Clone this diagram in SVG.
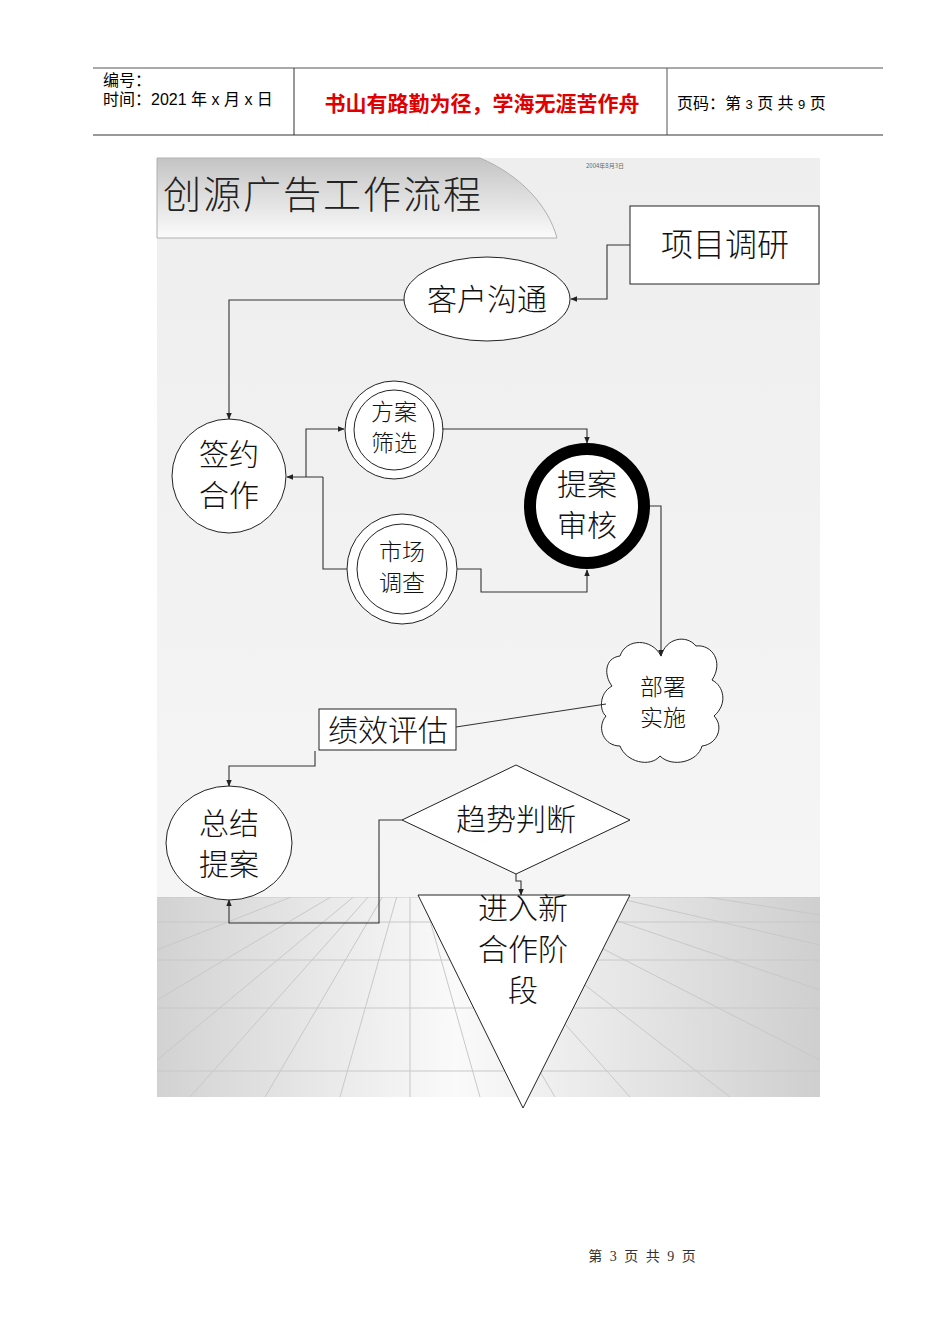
<svg xmlns="http://www.w3.org/2000/svg" width="950" height="1344" viewBox="0 0 950 1344">
<style>
.hdr{font-family:"Liberation Sans","Noto Sans CJK SC",sans-serif;fill:#000}
.cj{font-family:"Noto Sans CJK SC",sans-serif;fill:#111;font-weight:300;text-anchor:middle}
.sh{fill:#fff;stroke:#222;stroke-width:1}
.cn{fill:none;stroke:#333;stroke-width:1.1}
.grid{stroke:#c8c8c8;stroke-width:1;fill:none}
</style>
<defs>
<marker id="ar" viewBox="0 0 10 10" refX="9" refY="5" markerWidth="7" markerHeight="7" orient="auto-start-reverse" markerUnits="userSpaceOnUse">
<path d="M0,1 L10,5 L0,9 z" fill="#222"/>
</marker>
<linearGradient id="ban" x1="0" y1="0" x2="0" y2="1">
<stop offset="0" stop-color="#c4c4c4"/>
<stop offset="1" stop-color="#fbfbfb"/>
</linearGradient>
<linearGradient id="floor" x1="0" y1="0" x2="1" y2="0">
<stop offset="0" stop-color="#d2d2d2"/>
<stop offset="0.45" stop-color="#fafafa"/>
<stop offset="1" stop-color="#cfcfcf"/>
</linearGradient>
<linearGradient id="bg" x1="0" y1="0" x2="0" y2="1">
<stop offset="0" stop-color="#eeeeee"/>
<stop offset="1" stop-color="#f7f7f7"/>
</linearGradient>
<clipPath id="fl"><rect x="157" y="897" width="663" height="200"/></clipPath>
</defs>

<!-- header -->
<g id="header">
<line x1="93" y1="68" x2="883" y2="68" stroke="#555" stroke-width="1"/>
<line x1="93" y1="135" x2="883" y2="135" stroke="#777" stroke-width="1.5"/>
<line x1="294" y1="68" x2="294" y2="135" stroke="#333"/>
<line x1="667" y1="68" x2="667" y2="135" stroke="#555"/>
<text class="hdr" x="103" y="86" font-size="16">编号：</text>
<text class="hdr" x="103" y="105" font-size="16">时间：2021 年 x 月 x 日</text>
<text x="482" y="111" font-size="21" font-weight="bold" fill="#e00000" text-anchor="middle" font-family="Noto Sans CJK SC,sans-serif">书山有路勤为径，学海无涯苦作舟</text>
<text class="hdr" x="677" y="109" font-size="16">页码：第 <tspan font-size="13">3</tspan> 页  共 <tspan font-size="13">9</tspan> 页</text>
</g>

<!-- picture background -->
<g id="background">
<rect x="157" y="158" width="663" height="939" fill="url(#bg)"/>
<rect x="157" y="897" width="663" height="200" fill="url(#floor)"/>
<g clip-path="url(#fl)" class="grid">
<line x1="157" y1="897" x2="820" y2="897"/>
<line x1="157" y1="922" x2="820" y2="922"/>
<line x1="157" y1="960" x2="820" y2="960"/>
<line x1="157" y1="1008" x2="820" y2="1008"/>
<line x1="157" y1="1071" x2="820" y2="1071"/>
<line x1="410" y1="897" x2="410" y2="1097"/>
<line x1="410" y1="850" x2="157" y2="950"/>
<line x1="410" y1="850" x2="157" y2="1000"/>
<line x1="410" y1="850" x2="157" y2="1060"/>
<line x1="410" y1="850" x2="190" y2="1097"/>
<line x1="410" y1="850" x2="265" y2="1097"/>
<line x1="410" y1="850" x2="340" y2="1097"/>
<line x1="410" y1="850" x2="480" y2="1097"/>
<line x1="410" y1="850" x2="555" y2="1097"/>
<line x1="410" y1="850" x2="630" y2="1097"/>
<line x1="410" y1="850" x2="730" y2="1097"/>
<line x1="410" y1="850" x2="820" y2="1060"/>
<line x1="410" y1="850" x2="820" y2="990"/>
<line x1="410" y1="850" x2="820" y2="945"/>
<line x1="410" y1="850" x2="820" y2="915"/>
</g>
<path d="M157,158 L480,158 C520,175 548,205 557,238 L157,238 Z" fill="url(#ban)" stroke="#b0b0b0" stroke-width="1"/>
<text x="163" y="208" font-size="38" font-family="Noto Sans CJK SC,sans-serif" font-weight="300" fill="#222" letter-spacing="2">创源广告工作流程</text>
<text x="586" y="168" font-size="6" font-family="Noto Sans CJK SC,sans-serif" fill="#666">2004年8月3日</text>
</g>

<!-- nodes -->
<g id="n-xmdy">
<rect class="sh" x="630" y="206" width="189" height="78"/>
<text class="cj" x="725" y="256" font-size="32">项目调研</text>
</g>
<g id="n-khgt">
<ellipse class="sh" cx="487" cy="299" rx="83" ry="42"/>
<text class="cj" x="487" y="310" font-size="30">客户沟通</text>
</g>
<g id="n-qyhz">
<circle class="sh" cx="229" cy="476" r="57"/>
<text class="cj" x="229" y="465" font-size="30">签约</text>
<text class="cj" x="229" y="506" font-size="30">合作</text>
</g>
<g id="n-fasx">
<circle class="sh" cx="394" cy="430" r="49"/>
<circle class="sh" cx="394" cy="430" r="40"/>
<text class="cj" x="394" y="420" font-size="23">方案</text>
<text class="cj" x="394" y="451" font-size="23">筛选</text>
</g>
<g id="n-scdc">
<circle class="sh" cx="402" cy="569" r="55"/>
<circle class="sh" cx="402" cy="569" r="45"/>
<text class="cj" x="402" y="560" font-size="23">市场</text>
<text class="cj" x="402" y="591" font-size="23">调查</text>
</g>
<g id="n-tash">
<circle cx="587" cy="506" r="57" fill="#fff" stroke="#000" stroke-width="12"/>
<text class="cj" x="587" y="495" font-size="30">提案</text>
<text class="cj" x="587" y="536" font-size="30">审核</text>
</g>
<g id="n-bsss">
<path class="sh" d="M661,656 C652,638 626,638 620,656 C604,658 604,676 612,686 C598,694 600,712 606,716 C596,728 604,746 620,746 C626,762 650,768 660,756 C672,768 698,762 702,746 C718,744 724,726 714,716 C728,704 724,686 712,680 C724,662 712,644 696,646 C686,634 666,638 661,656 Z"/>
<text class="cj" x="663" y="695" font-size="23">部署</text>
<text class="cj" x="663" y="726" font-size="23">实施</text>
</g>
<g id="n-jxpg">
<rect class="sh" x="319" y="709" width="137" height="41"/>
<text class="cj" x="388" y="741" font-size="30">绩效评估</text>
</g>
<g id="n-zjta">
<ellipse class="sh" cx="229" cy="843" rx="63" ry="57"/>
<text class="cj" x="229" y="834" font-size="30">总结</text>
<text class="cj" x="229" y="875" font-size="30">提案</text>
</g>
<g id="n-qspd">
<polygon class="sh" points="402,820 516,765 630,820 516,874"/>
<text class="cj" x="516" y="830" font-size="30">趋势判断</text>
</g>
<g id="n-jrxhz">
<polygon class="sh" points="418,895 630,895 523,1108"/>
<text class="cj" x="523" y="919" font-size="30">进入新</text>
<text class="cj" x="523" y="960" font-size="30">合作阶</text>
<text class="cj" x="523" y="1001" font-size="30">段</text>
</g>

<!-- connectors -->
<g id="connectors">
<path class="cn" d="M630,245 H607 V299 H571" marker-end="url(#ar)"/>
<path class="cn" d="M404,300 H229 V419" marker-end="url(#ar)"/>
<path class="cn" d="M323,477 H287" marker-end="url(#ar)"/>
<path class="cn" d="M306,477 V429 H344" marker-end="url(#ar)"/>
<path class="cn" d="M347,569 H323 V477"/>
<path class="cn" d="M442,429 H587 V443" marker-end="url(#ar)"/>
<path class="cn" d="M457,569 H481 V592 H587 V570" marker-end="url(#ar)"/>
<path class="cn" d="M650,506 H661 V656" marker-end="url(#ar)"/>
<path class="cn" d="M606,704 L456,727"/>
<path class="cn" d="M315,751 V766 H229 V786" marker-end="url(#ar)"/>
<path class="cn" d="M402,820 H379 V923 H229 V900" marker-end="url(#ar)"/>
<path class="cn" d="M516,874 V881 H521 V895" marker-end="url(#ar)"/>
</g>

<g id="footer">
<text x="643" y="1261" font-size="14" text-anchor="middle" letter-spacing="2" font-family="Liberation Serif,Noto Sans CJK SC,serif" fill="#333">第 3 页 共 9 页</text>
</g>
</svg>
